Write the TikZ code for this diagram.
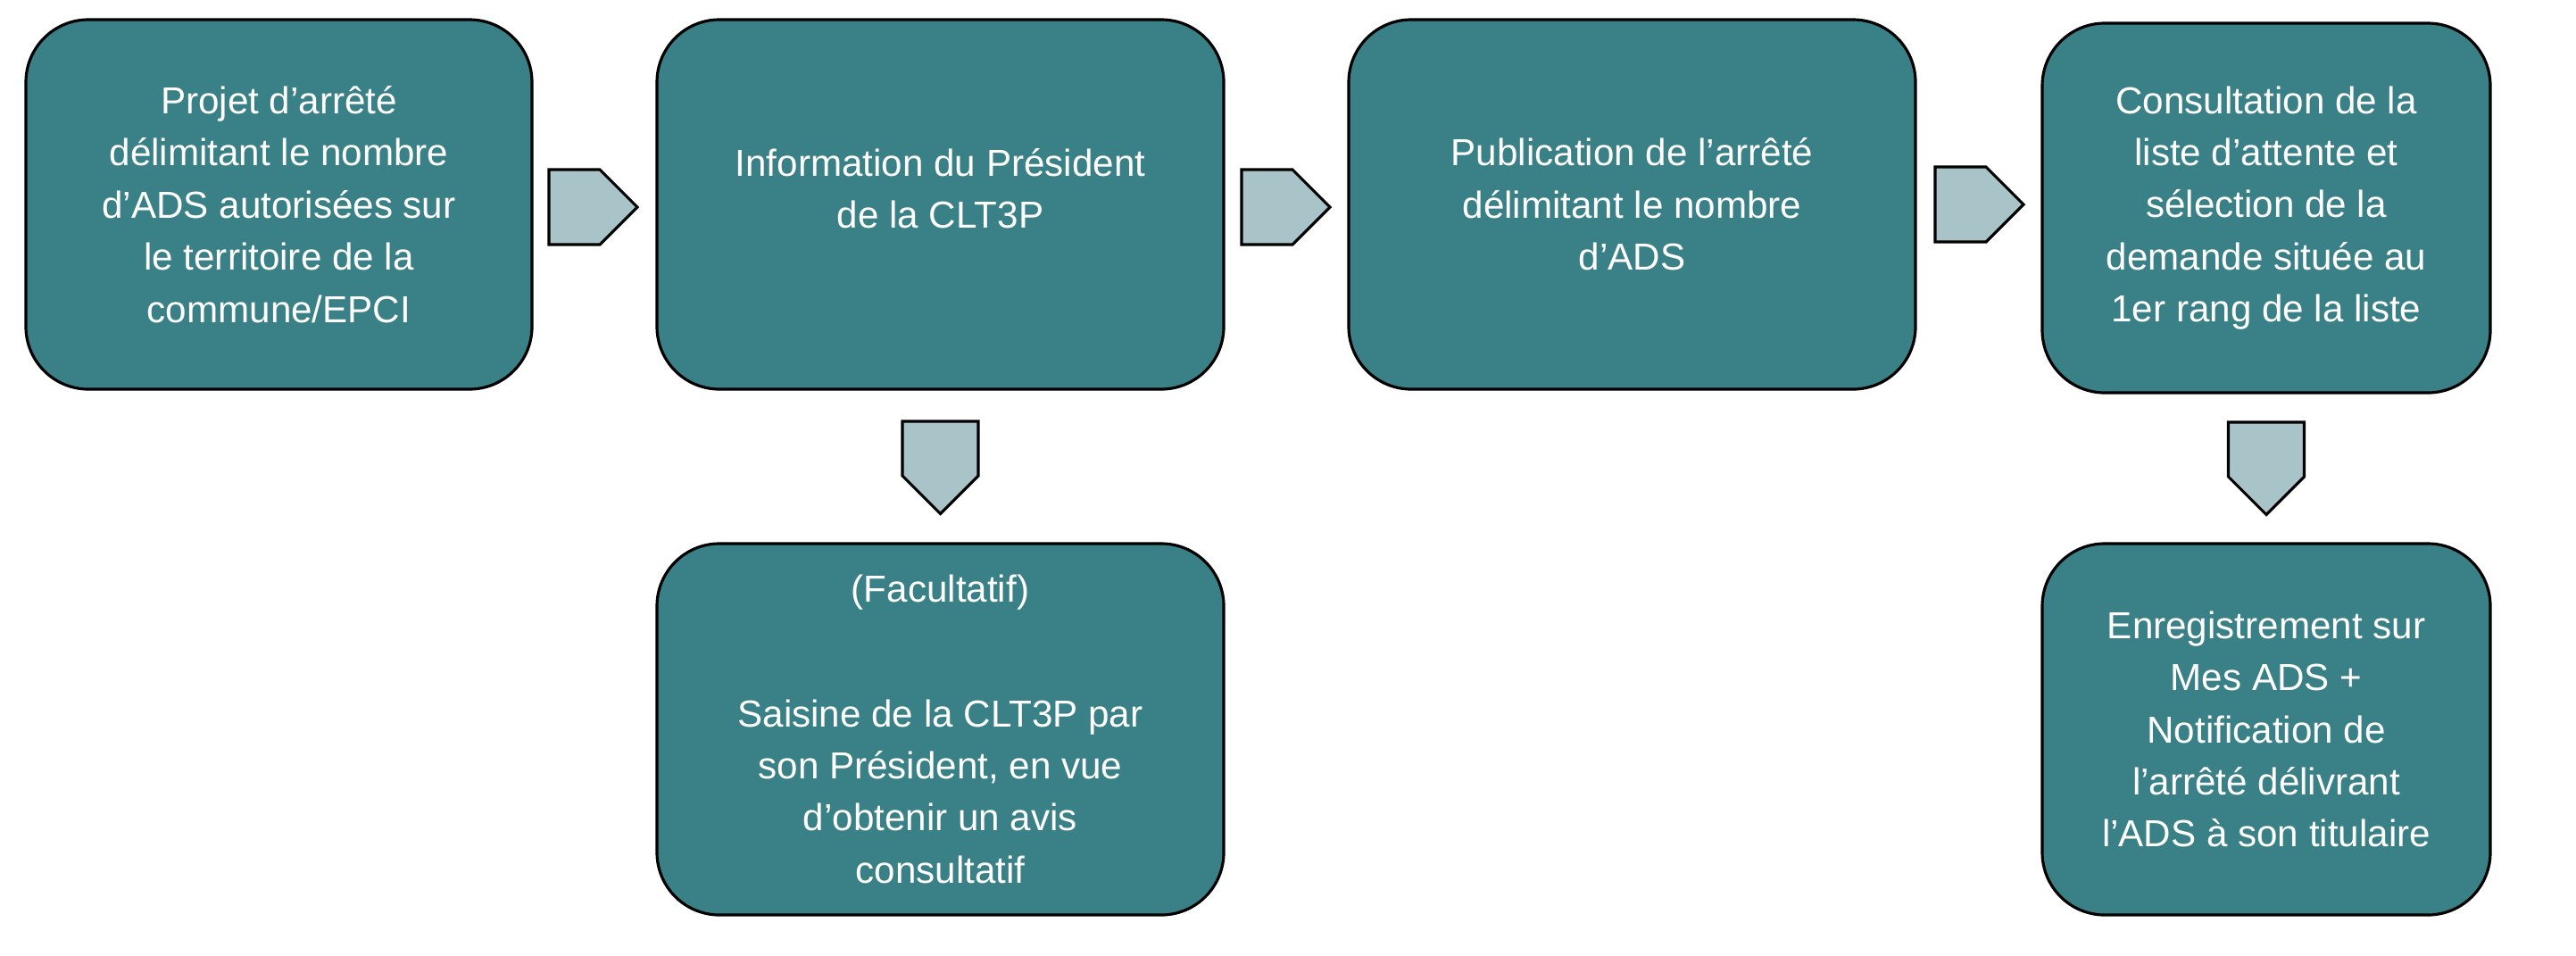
\documentclass[tikz,border=0pt]{standalone}
\usepackage{fontspec}
\setmainfont{Liberation Sans}
\usepackage{xcolor}
\usepackage{tikz}
\usetikzlibrary{calc,positioning,shapes.symbols}
\definecolor{boxteal}{HTML}{3A8087}
\definecolor{arrowgrey}{HTML}{A9C4C8}

\begin{document}
\begin{tikzpicture}[
  stepbox/.style = {draw=black, fill=boxteal, rounded corners=7mm,
                    align=center, text=white, line width=0.9pt,
                    minimum height=41.4mm, inner sep=2pt, outer sep=0pt,
                    font=\fontsize{12}{16.6}\selectfont},
  chev/.style    = {shape=signal, draw=black, fill=arrowgrey, outer sep=0pt,
                    line width=0.9pt, inner sep=0pt, signal pointer angle=90},
  hchev/.style   = {chev, signal to=east, minimum width=9.9mm, minimum height=8.4mm},
  vchev/.style   = {chev, signal to=south, minimum width=8.5mm, minimum height=6.1mm},
  node distance = 14mm,
]
\useasboundingbox (0,0) rectangle (28.86,-10.70);
\node[stepbox, minimum width=56.7mm] (projet) at (3.125,-2.29)
    {Projet d’arrêté\\délimitant le nombre\\d’ADS autorisées sur\\le territoire de la\\commune/EPCI};
\node[stepbox, minimum width=63.5mm, right=14mm of projet] (info)
    {Information du Président\\de la CLT3P\\[-6.4pt]\mbox{}};
\node[stepbox, minimum width=63.5mm, right=14mm of info] (publi)
    {Publication de l’arrêté\\délimitant le nombre\\d’ADS};
\node[stepbox, minimum width=50.2mm, right=14.2mm of publi, yshift=-0.4mm] (consult)
    {Consultation de la\\liste d’attente et\\sélection de la\\demande située au\\1er rang de la liste};
\node[stepbox, minimum width=63.5mm, minimum height=41.6mm, below=17.3mm of info] (saisine)
    {(Facultatif)\\[23pt]Saisine de la CLT3P par\\son Président, en vue\\d’obtenir un avis\\consultatif};
\node[stepbox, minimum width=50.2mm, minimum height=41.6mm, below=16.9mm of consult] (enreg)
    {Enregistrement sur\\Mes ADS +\\Notification de\\l’arrêté délivrant\\l’ADS à son titulaire};
% fleches
\node[hchev, right=1.9mm of projet, yshift=-0.3mm] (fl1) {};
\node[hchev, right=2mm of info, yshift=-0.3mm] (fl2) {};
\node[hchev, right=2.2mm of publi] (fl3) {};
\node[vchev, below=3.6mm of info] (fl4) {};
\node[vchev, below=3.3mm of consult] (fl5) {};
\end{tikzpicture}
\end{document}
